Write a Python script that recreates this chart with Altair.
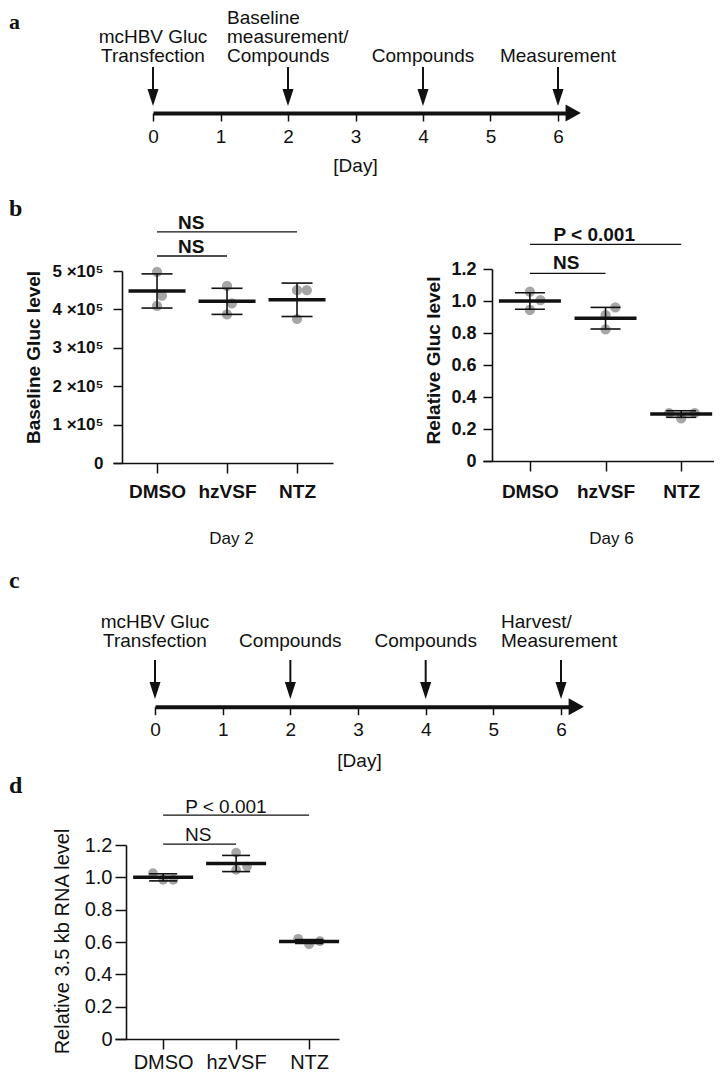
import altair as alt
import pandas as pd

# ---------------- values ----------------
groups = ["DMSO", "hzVSF", "NTZ"]
timeline_days = [0, 1, 2, 3, 4, 5, 6]

# (a) timeline events
a_event_days = [0, 2, 4, 6]
a_event_text = [["mcHBV Gluc", "Transfection"], ["Baseline", "measurement/", "Compounds"],
                ["Compounds"], ["Measurement"]]
a_event_left = [False, True, False, False]

# (c) timeline events
c_event_days = [0, 2, 4, 6]
c_event_text = [["mcHBV Gluc", "Transfection"], ["Compounds"], ["Compounds"],
                ["Harvest/", "Measurement"]]
c_event_left = [False, False, False, True]

# (b) Day 2: baseline Gluc level (3 replicates per group)
b2_points = [[4.98e5, 4.36e5, 4.09e5], [4.61e5, 4.16e5, 3.87e5], [4.50e5, 4.50e5, 3.75e5]]
b2_jitter = [[0, 0.07, 0], [0, 0.07, 0], [0, 0.14, 0]]
b2_mean = [4.48e5, 4.21e5, 4.25e5]
b2_err = [0.445e5, 0.34e5, 0.435e5]
b2_br_to = [1, 2]
b2_br_level = [5.39e5, 6.02e5]
b2_br_text = ["NS", "NS"]
b2_br_text_x = [0.49, 0.49]
b2_br_text_y = [5.62e5, 6.25e5]

# (b) Day 6: relative Gluc level
b6_points = [[1.058, 1.006, 0.944], [0.960, 0.912, 0.823], [0.300, 0.266, 0.300]]
b6_jitter = [[0, 0.14, 0], [0.13, 0, 0], [-0.16, 0, 0.18]]
b6_mean = [1.0, 0.8925, 0.2935]
b6_err = [0.052, 0.0675, 0.0205]
b6_br_to = [1, 2]
b6_br_level = [1.173, 1.354]
b6_br_text = ["NS", "P < 0.001"]
b6_br_text_x = [0.48, 0.85]
b6_br_text_y = [1.2375, 1.4125]

# (d) relative 3.5 kb RNA level
d_points = [[1.026, 0.985, 0.985], [1.153, 1.046, 1.067], [0.620, 0.585, 0.605]]
d_jitter = [[-0.14, 0, 0.14], [0, 0, 0.15], [-0.15, 0, 0.15]]
d_mean = [1.0, 1.0855, 0.603]
d_err = [0.022, 0.05, 0.012]
d_br_to = [1, 2]
d_br_level = [1.206, 1.385]
d_br_text = ["NS", "P < 0.001"]
d_br_text_x = [0.48, 0.86]
d_br_text_y = [1.262, 1.438]

# ---------------- layout / style ----------------
W, H, M = 706, 1066, 8
FONT = "Liberation Sans"
INK = "#111111"
GREY = "#a6a6a6"
DOWN = "M-0.65,-1L0.65,-1L0,1Z"
RIGHT = "M-0.7,-1L-0.7,1L1.1,0Z"


def lin(dom, rng):
    return alt.Scale(domain=list(dom), range=list(rng), nice=False, zero=False)


def timeline(ev_days, ev_text, ev_left, L):
    r0 = L["x0"] - M
    sx = lin([0, L["end"]], [r0, r0 + L["end"] * L["pxday"]])
    axis = alt.Axis(orient="bottom", offset=L["axis_y"] - M - H, values=timeline_days, format="d",
                    domainColor=INK, domainWidth=4, tickColor=INK, tickWidth=1.5, tickSize=8,
                    labelFont=FONT, labelFontSize=19, labelColor=INK, labelPadding=L["lab_pad"],
                    labelFlush=False, labelOverlap=False, grid=False,
                    title="[Day]", titleFont=FONT, titleFontSize=19, titleFontWeight="normal",
                    titleColor=INK, titleX=L["title_x"] - M, titleY=L["title_y"] - L["axis_y"],
                    titleAlign="center", titleBaseline="middle", titleAngle=0)
    ev = pd.DataFrame({"day": ev_days})
    shafts = alt.Chart(ev).mark_rule(color=INK, strokeWidth=2).encode(
        x=alt.X("day:Q", scale=sx, axis=axis),
        y=alt.value(L["shaft_top"] - M), y2=alt.value(L["shaft_bot"] - M))
    heads = alt.Chart(ev).mark_point(shape=DOWN, filled=True, size=289, color=INK, opacity=1,
                                     strokeWidth=0).encode(
        x=alt.X("day:Q", scale=sx, axis=None), y=alt.value(L["head_y"] - M))
    tip = alt.Chart(pd.DataFrame({"day": [L["end"]]})).mark_point(
        shape=RIGHT, filled=True, size=289, color=INK, opacity=1, strokeWidth=0).encode(
        x=alt.X("day:Q", scale=sx, axis=None), y=alt.value(L["axis_y"] - M))
    rows = []
    for d, lines, left in zip(ev_days, ev_text, ev_left):
        for i, t in enumerate(reversed(lines)):
            rows.append({"day": d, "text": t, "row": i, "left": left})
    lab = pd.DataFrame(rows)
    ly = L["lab_y"] - M
    sy = lin([0, 1], [ly, ly - L["lh"]])

    def labels(df, align, dx):
        return alt.Chart(df).mark_text(align=align, baseline="middle", dx=dx, font=FONT,
                                       fontSize=19, color=INK).encode(
            x=alt.X("day:Q", scale=sx, axis=None),
            y=alt.Y("row:Q", scale=sy, axis=None), text="text:N")

    return [shafts, heads, tip,
            labels(lab[~lab["left"]], "center", 0),
            labels(lab[lab["left"]], "left", L["left_dx"])]


def dot_panel(points, jitter, mean, err, br_to, br_level, br_text, br_text_x, br_text_y, L):
    sx = lin(L["xdom"], [L["x0"] - M, L["x1"] - M])
    sy = lin(L["ydom"], [L["y0"] - M, L["y1"] - M])
    weight = "bold" if L["bold"] else "normal"
    names = "[" + ",".join("'%s'" % g for g in groups) + "]"
    xkw = dict(orient="bottom", offset=L["xaxis_y"] - M - H, values=list(range(len(groups))),
               labelExpr=names + "[datum.value]", domainColor=INK, domainWidth=1.6,
               tickColor=INK, tickWidth=1.5, tickSize=10, labelFont=FONT,
               labelFontSize=L["xlab_size"], labelFontWeight=weight, labelColor=INK,
               labelPadding=L["xlab_pad"], labelFlush=False, labelOverlap=False, grid=False)
    if L["xtitle"]:
        xkw.update(title=L["xtitle"], titleFont=FONT, titleFontSize=17, titleFontWeight="normal",
                   titleColor=INK, titleX=L["xtitle_x"] - M, titleY=L["xtitle_y"] - L["xaxis_y"],
                   titleAlign="center", titleBaseline="middle", titleAngle=0)
    else:
        xkw.update(title=None)
    xaxis = alt.Axis(**xkw)
    yaxis = alt.Axis(orient="left", offset=-(L["yaxis_x"] - M), values=L["yvalues"],
                     labelExpr=L["ylabel_expr"], domainColor=INK, domainWidth=1.6,
                     tickColor=INK, tickWidth=1.5, tickSize=L["ytick"], labelFont=FONT,
                     labelFontSize=L["ylab_size"], labelFontWeight=weight, labelColor=INK,
                     labelPadding=L["ylab_pad"], labelOverlap=False, grid=False,
                     title=L["ytitle"], titleFont=FONT, titleFontSize=L["ytitle_size"],
                     titleFontWeight=weight,
                     titleColor=INK, titleX=L["ytitle_x"] - L["yaxis_x"], titleY=L["ytitle_y"] - M,
                     titleAngle=270, titleAlign="center", titleBaseline="middle")

    pts = pd.DataFrame([{"gi": gi, "xpos": gi + j, "value": v}
                        for gi, (vals, jits) in enumerate(zip(points, jitter))
                        for v, j in zip(vals, jits)])
    ed = pd.DataFrame({"gi": list(range(len(groups))),
                       "lo": [m - e for m, e in zip(mean, err)],
                       "hi": [m + e for m, e in zip(mean, err)]})
    cd = pd.DataFrame({"gi": list(ed["gi"]) * 2, "v": list(ed["lo"]) + list(ed["hi"])})
    md = pd.DataFrame({"gi": list(range(len(groups))), "mean": mean})
    bd = pd.DataFrame({"x0": [0] * len(br_to), "x1": br_to, "level": br_level})
    btd = pd.DataFrame({"x": br_text_x, "y": br_text_y, "text": br_text})

    X = lambda f: alt.X(f, scale=sx, axis=None)
    Y = lambda f: alt.Y(f, scale=sy, axis=None)
    points_l = alt.Chart(pts).mark_circle(size=L["pt_size"], color=GREY, opacity=1).encode(
        x=alt.X("xpos:Q", scale=sx, axis=xaxis), y=alt.Y("value:Q", scale=sy, axis=yaxis))
    bars = alt.Chart(ed).mark_rule(color=INK, strokeWidth=1.6).encode(
        x=X("gi:Q"), y=Y("lo:Q"), y2="hi:Q")
    caps = alt.Chart(cd).mark_tick(orient="horizontal", size=L["cap"], thickness=1.6,
                                   color=INK, opacity=1).encode(x=X("gi:Q"), y=Y("v:Q"))
    means = alt.Chart(md).mark_tick(orient="horizontal", size=L["mean_w"], thickness=3.5,
                                    color=INK, opacity=1).encode(x=X("gi:Q"), y=Y("mean:Q"))
    brk = alt.Chart(bd).mark_rule(color=INK, strokeWidth=1.3).encode(
        x=X("x0:Q"), x2="x1:Q", y=Y("level:Q"))
    brt = alt.Chart(btd).mark_text(font=FONT, fontSize=19, fontWeight=weight, color=INK,
                                   baseline="middle", align="center").encode(
        x=X("x:Q"), y=Y("y:Q"), text="text:N")
    return [points_l, bars, caps, means, brk, brt]


def letter(ch, x, y, size=24):
    return alt.Chart(pd.DataFrame({"t": [ch]})).mark_text(
        font="Liberation Serif", fontSize=size, fontWeight="bold", align="left",
        baseline="alphabetic", color=INK).encode(
        text="t:N", x=alt.value(x - M), y=alt.value(y - M))


A = dict(x0=153, pxday=67.5, end=6.2, axis_y=113, shaft_top=67, shaft_bot=93, head_y=97.5,
         lab_y=56, lh=19, left_dx=-61, lab_pad=6, title_x=355, title_y=165)
C = dict(x0=155, pxday=67.67, end=6.2, axis_y=706.7, shaft_top=660, shaft_bot=686, head_y=690.5,
         lab_y=641, lh=19.5, left_dx=-60, lab_pad=5.5, title_x=359, title_y=760)

rel_expr = "datum.value == 0 ? '0' : format(datum.value, '.1f')"
rel_values = [0, 0.2, 0.4, 0.6, 0.8, 1.0, 1.2]

B2 = dict(xdom=[-0.629, 2.514], x0=113, x1=333, ydom=[0, 5e5], y0=463, y1=271,
          yaxis_x=122, xaxis_y=463, xtitle="Day 2", xtitle_x=231, xtitle_y=538,
          ytitle="Baseline Gluc level", ytitle_x=33, ytitle_y=357, ytitle_size=19, bold=True,
          ytick=9, ylab_size=17, ylab_pad=10, xlab_size=19, xlab_pad=9,
          yvalues=[0, 1e5, 2e5, 3e5, 4e5, 5e5],
          ylabel_expr="datum.value == 0 ? '0' : format(datum.value / 100000, 'd') + ' \u00d710\u2075'",
          pt_size=105, mean_w=57, cap=31)
B6 = dict(xdom=[-0.62, 2.50], x0=483, x1=719, ydom=[0, 1.2], y0=461, y1=269,
          yaxis_x=492, xaxis_y=461, xtitle="Day 6", xtitle_x=611, xtitle_y=538,
          ytitle="Relative Gluc level", ytitle_x=433, ytitle_y=360, ytitle_size=19, bold=True,
          ytick=9, ylab_size=18, ylab_pad=7, xlab_size=19, xlab_pad=11,
          yvalues=rel_values, ylabel_expr=rel_expr, pt_size=105, mean_w=62, cap=30)
D = dict(xdom=[-0.66, 2.41], x0=115, x1=339, ydom=[0, 1.2], y0=1039, y1=845,
         yaxis_x=126, xaxis_y=1039, xtitle=None,
         ytitle="Relative 3.5 kb RNA level", ytitle_x=62, ytitle_y=941, ytitle_size=20, bold=False,
         ytick=11, ylab_size=20, ylab_pad=3, xlab_size=20, xlab_pad=3,
         yvalues=rel_values, ylabel_expr=rel_expr, pt_size=95, mean_w=60, cap=28)

layers = []
layers += timeline(a_event_days, a_event_text, a_event_left, A)
layers += dot_panel(b2_points, b2_jitter, b2_mean, b2_err, b2_br_to, b2_br_level,
                    b2_br_text, b2_br_text_x, b2_br_text_y, B2)
layers += dot_panel(b6_points, b6_jitter, b6_mean, b6_err, b6_br_to, b6_br_level,
                    b6_br_text, b6_br_text_x, b6_br_text_y, B6)
layers += timeline(c_event_days, c_event_text, c_event_left, C)
layers += dot_panel(d_points, d_jitter, d_mean, d_err, d_br_to, d_br_level,
                    d_br_text, d_br_text_x, d_br_text_y, D)
layers += [letter("a", 9, 29, 22), letter("b", 9, 216), letter("c", 9, 588), letter("d", 9, 793)]

chart = alt.layer(*layers).resolve_scale(x="independent", y="independent").properties(
    width=W, height=H, autosize=alt.AutoSizeParams(type="none"), padding=0, background="white"
).configure_view(stroke=None).configure_axis(grid=False)

chart.save("out.html", embed_options={"renderer": "svg", "actions": False})
